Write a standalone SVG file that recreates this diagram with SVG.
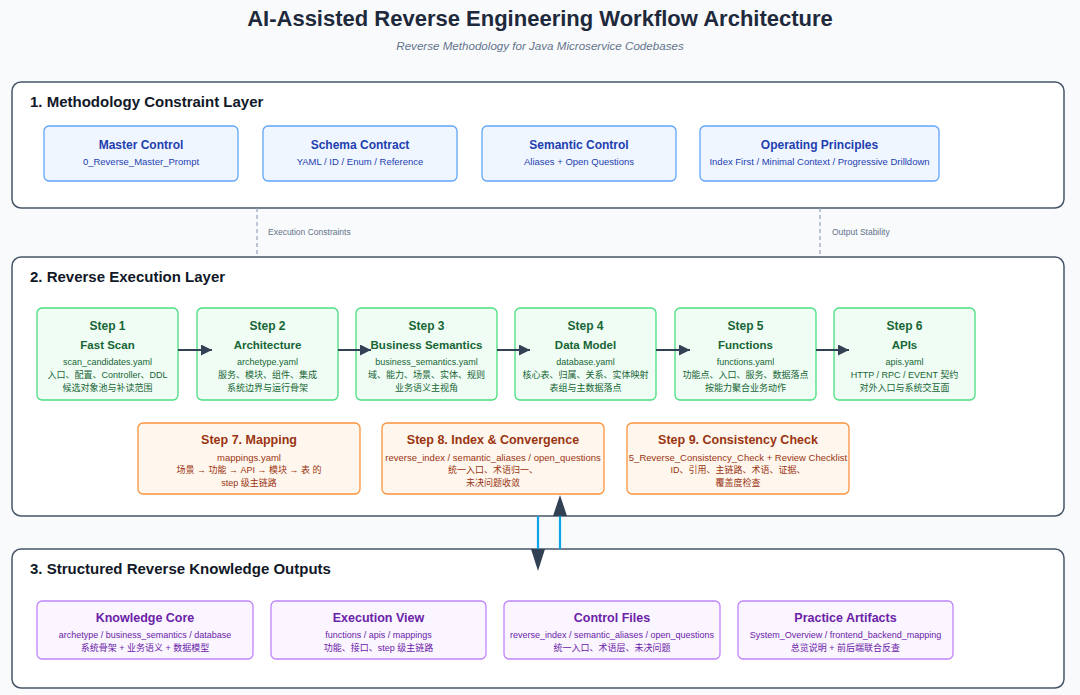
<svg xmlns="http://www.w3.org/2000/svg" width="1080" height="695" viewBox="0 0 1080 695">
<defs>
<style>
text{font-family:"Liberation Sans",Arial,"Noto Sans CJK SC",sans-serif;}
.h1{font-size:22px;font-weight:bold;fill:#1e293b;text-anchor:middle;}
.h2{font-size:11.6px;font-style:italic;fill:#64748b;text-anchor:middle;}
.lt{font-size:15px;font-weight:bold;fill:#111827;}
.layer{fill:#ffffff;stroke:#475569;stroke-width:1.5;}
.bb{fill:#eff6ff;stroke:#60a5fa;stroke-width:1.3;}
.gb{fill:#f0fdf4;stroke:#4ade80;stroke-width:1.3;}
.ob{fill:#fff7ed;stroke:#fb923c;stroke-width:1.3;}
.pb{fill:#faf5ff;stroke:#c084fc;stroke-width:1.3;}
.bt{font-size:12px;font-weight:bold;fill:#1e40af;text-anchor:middle;}
.bs{font-size:9.5px;fill:#1e40af;text-anchor:middle;}
.gt{font-size:12px;font-weight:bold;fill:#166534;text-anchor:middle;}
.gn{font-size:11.5px;font-weight:bold;fill:#166534;text-anchor:middle;}
.gs{font-size:9px;fill:#166534;text-anchor:middle;}
.ot{font-size:12.5px;font-weight:bold;fill:#9a3412;text-anchor:middle;}
.os{font-size:9.5px;fill:#9a3412;text-anchor:middle;}
.oc{font-size:9px;fill:#9a3412;text-anchor:middle;}
.pt{font-size:12.5px;font-weight:bold;fill:#6b21a8;text-anchor:middle;}
.ps{font-size:9px;fill:#6b21a8;text-anchor:middle;}
.dash{stroke:#94a3b8;stroke-width:1.2;stroke-dasharray:4 3;fill:none;}
.dl{font-size:8.5px;fill:#64748b;}
.flow{stroke:#334155;stroke-width:2;fill:none;marker-end:url(#ah);}
.blue{stroke:#0ea5e9;stroke-width:2.2;fill:none;}
.head{fill:#334155;}
</style>
<marker id="ah" viewBox="0 0 10 10" refX="10" refY="5" markerUnits="userSpaceOnUse" markerWidth="14" markerHeight="11" orient="auto">
<path d="M0,0 L10,5 L0,10 z" fill="#334155"/>
</marker>
</defs>
<rect width="1080" height="695" fill="#f8fafc"/>
<text class="h1" x="540" y="26">AI-Assisted Reverse Engineering Workflow Architecture</text>
<text class="h2" x="540" y="50">Reverse Methodology for Java Microservice Codebases</text>

<g id="layer1">
<rect class="layer" x="12" y="82" width="1052" height="126" rx="9"/>
<text class="lt" x="30" y="107">1. Methodology Constraint Layer</text>
</g>
<g id="layer2">
<rect class="layer" x="12" y="257" width="1052" height="259" rx="9"/>
<text class="lt" x="30" y="282">2. Reverse Execution Layer</text>
</g>
<g id="layer3">
<rect class="layer" x="12" y="549" width="1052" height="139" rx="9"/>
<text class="lt" x="30" y="574">3. Structured Reverse Knowledge Outputs</text>
</g>

<g id="master-control">
<rect class="bb" x="44" y="126" width="194" height="55" rx="5"/>
<text class="bt" x="141" y="149">Master Control</text>
<text class="bs" x="141" y="165">0_Reverse_Master_Prompt</text>
</g>
<g id="schema-contract">
<rect class="bb" x="263" y="126" width="194" height="55" rx="5"/>
<text class="bt" x="360" y="149">Schema Contract</text>
<text class="bs" x="360" y="165">YAML / ID / Enum / Reference</text>
</g>
<g id="semantic-control">
<rect class="bb" x="482" y="126" width="194" height="55" rx="5"/>
<text class="bt" x="579" y="149">Semantic Control</text>
<text class="bs" x="579" y="165">Aliases + Open Questions</text>
</g>
<g id="operating-principles">
<rect class="bb" x="700" y="126" width="239" height="55" rx="5"/>
<text class="bt" x="819.5" y="149">Operating Principles</text>
<text class="bs" x="819.5" y="165">Index First / Minimal Context / Progressive Drilldown</text>
</g>

<g id="step1">
<rect class="gb" x="37" y="308" width="141" height="92" rx="5"/>
<text class="gt" x="107.5" y="330">Step 1</text>
<text class="gn" x="107.5" y="349">Fast Scan</text>
<text class="gs" x="107.5" y="365">scan_candidates.yaml</text>
<text class="gs" x="107.5" y="378">入口、配置、Controller、DDL</text>
<text class="gs" x="107.5" y="391">候选对象池与补读范围</text>
</g>
<g id="step2">
<rect class="gb" x="197" y="308" width="141" height="92" rx="5"/>
<text class="gt" x="267.5" y="330">Step 2</text>
<text class="gn" x="267.5" y="349">Architecture</text>
<text class="gs" x="267.5" y="365">archetype.yaml</text>
<text class="gs" x="267.5" y="378">服务、模块、组件、集成</text>
<text class="gs" x="267.5" y="391">系统边界与运行骨架</text>
</g>
<g id="step3">
<rect class="gb" x="356" y="308" width="141" height="92" rx="5"/>
<text class="gt" x="426.5" y="330">Step 3</text>
<text class="gn" x="426.5" y="349">Business Semantics</text>
<text class="gs" x="426.5" y="365">business_semantics.yaml</text>
<text class="gs" x="426.5" y="378">域、能力、场景、实体、规则</text>
<text class="gs" x="426.5" y="391">业务语义主视角</text>
</g>
<g id="step4">
<rect class="gb" x="515" y="308" width="141" height="92" rx="5"/>
<text class="gt" x="585.5" y="330">Step 4</text>
<text class="gn" x="585.5" y="349">Data Model</text>
<text class="gs" x="585.5" y="365">database.yaml</text>
<text class="gs" x="585.5" y="378">核心表、归属、关系、实体映射</text>
<text class="gs" x="585.5" y="391">表组与主数据落点</text>
</g>
<g id="step5">
<rect class="gb" x="675" y="308" width="141" height="92" rx="5"/>
<text class="gt" x="745.5" y="330">Step 5</text>
<text class="gn" x="745.5" y="349">Functions</text>
<text class="gs" x="745.5" y="365">functions.yaml</text>
<text class="gs" x="745.5" y="378">功能点、入口、服务、数据落点</text>
<text class="gs" x="745.5" y="391">按能力聚合业务动作</text>
</g>
<g id="step6">
<rect class="gb" x="834" y="308" width="141" height="92" rx="5"/>
<text class="gt" x="904.5" y="330">Step 6</text>
<text class="gn" x="904.5" y="349">APIs</text>
<text class="gs" x="904.5" y="365">apis.yaml</text>
<text class="gs" x="904.5" y="378">HTTP / RPC / EVENT 契约</text>
<text class="gs" x="904.5" y="391">对外入口与系统交互面</text>
</g>

<g id="step7">
<rect class="ob" x="138" y="423" width="222" height="71" rx="5"/>
<text class="ot" x="249" y="444">Step 7. Mapping</text>
<text class="os" x="249" y="461">mappings.yaml</text>
<text class="oc" x="249" y="473">场景 → 功能 → API → 模块 → 表 的</text>
<text class="oc" x="249" y="486">step 级主链路</text>
</g>
<g id="step8">
<rect class="ob" x="382" y="423" width="222" height="71" rx="5"/>
<text class="ot" x="493" y="444">Step 8. Index &amp; Convergence</text>
<text class="os" x="493" y="461">reverse_index / semantic_aliases / open_questions</text>
<text class="oc" x="493" y="473">统一入口、术语归一、</text>
<text class="oc" x="493" y="486">未决问题收敛</text>
</g>
<g id="step9">
<rect class="ob" x="627" y="423" width="222" height="71" rx="5"/>
<text class="ot" x="738" y="444">Step 9. Consistency Check</text>
<text class="os" x="738" y="461">5_Reverse_Consistency_Check + Review Checklist</text>
<text class="oc" x="738" y="473">ID、引用、主链路、术语、证据、</text>
<text class="oc" x="738" y="486">覆盖度检查</text>
</g>

<g id="knowledge-core">
<rect class="pb" x="37" y="601" width="216" height="58" rx="5"/>
<text class="pt" x="145" y="622">Knowledge Core</text>
<text class="ps" x="145" y="638">archetype / business_semantics / database</text>
<text class="ps" x="145" y="651">系统骨架 + 业务语义 + 数据模型</text>
</g>
<g id="execution-view">
<rect class="pb" x="271" y="601" width="215" height="58" rx="5"/>
<text class="pt" x="378.5" y="622">Execution View</text>
<text class="ps" x="378.5" y="638">functions / apis / mappings</text>
<text class="ps" x="378.5" y="651">功能、接口、step 级主链路</text>
</g>
<g id="control-files">
<rect class="pb" x="504" y="601" width="216" height="58" rx="5"/>
<text class="pt" x="612" y="622">Control Files</text>
<text class="ps" x="612" y="638">reverse_index / semantic_aliases / open_questions</text>
<text class="ps" x="612" y="651">统一入口、术语层、未决问题</text>
</g>
<g id="practice-artifacts">
<rect class="pb" x="738" y="601" width="215" height="58" rx="5"/>
<text class="pt" x="845.5" y="622">Practice Artifacts</text>
<text class="ps" x="845.5" y="638">System_Overview / frontend_backend_mapping</text>
<text class="ps" x="845.5" y="651">总览说明 + 前后端联合反查</text>
</g>

<g id="connectors">
<line class="dash" x1="257" y1="208" x2="257" y2="257"/>
<text class="dl" x="268" y="235">Execution Constraints</text>
<line class="dash" x1="820" y1="208" x2="820" y2="257"/>
<text class="dl" x="832" y="235">Output Stability</text>
<line class="flow" x1="178" y1="350" x2="212" y2="350"/>
<line class="flow" x1="338" y1="350" x2="371" y2="350"/>
<line class="flow" x1="497" y1="350" x2="530" y2="350"/>
<line class="flow" x1="656" y1="350" x2="690" y2="350"/>
<line class="flow" x1="816" y1="350" x2="849" y2="350"/>
<line class="blue" x1="538" y1="516" x2="538" y2="549"/>
<line class="blue" x1="560" y1="516" x2="560" y2="549"/>
<polygon class="head" points="531,549 545,549 538,571"/>
<polygon class="head" points="553,516 567,516 560,495"/>
</g>
</svg>
